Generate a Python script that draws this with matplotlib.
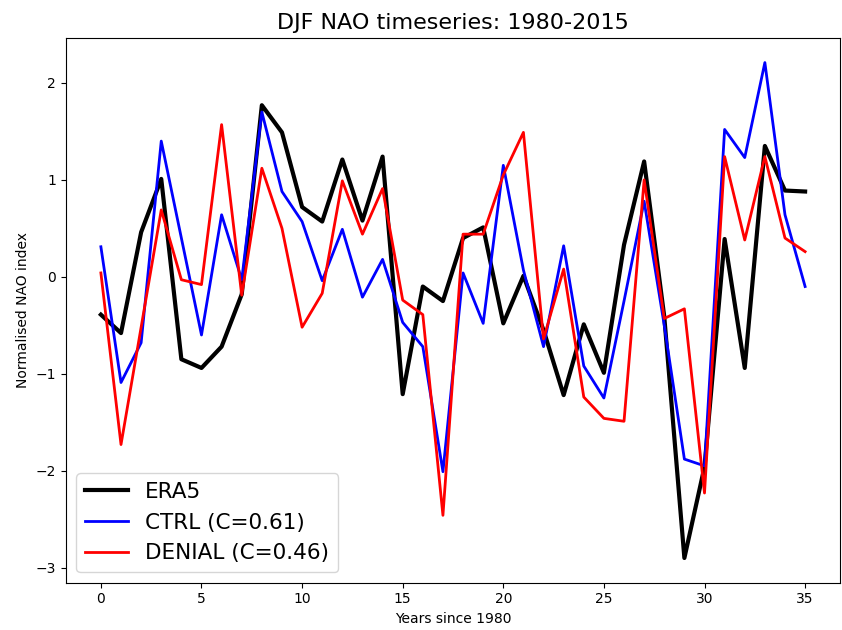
import numpy as np
import matplotlib
matplotlib.use("Agg")
import matplotlib.pyplot as plt

years = np.arange(36)

era5 = [-0.39, -0.58, 0.46, 1.01, -0.85, -0.94, -0.72, -0.18, 1.77, 1.49,
        0.72, 0.57, 1.21, 0.58, 1.24, -1.21, -0.10, -0.25, 0.40, 0.51,
        -0.48, 0.01, -0.55, -1.22, -0.49, -0.99, 0.33, 1.19, -0.41, -2.90,
        -1.96, 0.39, -0.94, 1.35, 0.89, 0.88]

ctrl = [0.31, -1.09, -0.68, 1.40, 0.40, -0.60, 0.64, -0.03, 1.70, 0.88,
        0.57, -0.04, 0.49, -0.21, 0.18, -0.47, -0.72, -2.01, 0.04, -0.48,
        1.15, 0.07, -0.72, 0.32, -0.92, -1.25, -0.25, 0.78, -0.50, -1.88,
        -1.95, 1.52, 1.23, 2.21, 0.64, -0.10]

denial = [0.04, -1.73, -0.52, 0.69, -0.03, -0.08, 1.57, -0.19, 1.12, 0.50,
          -0.52, -0.17, 0.99, 0.44, 0.91, -0.24, -0.39, -2.46, 0.44, 0.44,
          1.05, 1.49, -0.64, 0.08, -1.24, -1.46, -1.49, 1.00, -0.43, -0.33,
          -2.23, 1.24, 0.38, 1.24, 0.40, 0.26]

fig = plt.figure(figsize=(8.42, 6.3), dpi=100)
ax = fig.add_axes([0.078, 0.075, 0.92, 0.865])

ax.plot(years, era5, color="black", lw=3, label="ERA5")
ax.plot(years, ctrl, color="blue", lw=2, label="CTRL (C=0.61)")
ax.plot(years, denial, color="red", lw=2, label="DENIAL (C=0.46)")

ax.set_title("DJF NAO timeseries: 1980-2015", fontsize=16)
ax.set_xlabel("Years since 1980")
ax.set_ylabel("Normalised NAO index")
ax.legend(loc="lower left", fontsize=15.5)

fig.savefig("out.png", dpi=100)
